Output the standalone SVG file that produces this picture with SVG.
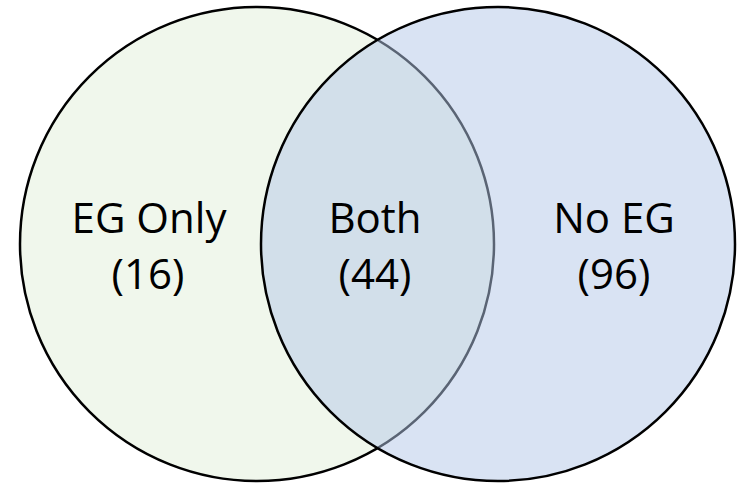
<svg xmlns="http://www.w3.org/2000/svg" width="740" height="483" viewBox="0 0 740 483">
<style>
.set{stroke:#000;stroke-width:2.5}
.lbl{font-family:"Open Sans","Noto Sans",sans-serif;font-size:42px;fill:#000;text-anchor:middle}
</style>
<rect width="740" height="483" fill="#fff"/>
<g id="eg">
<circle class="set" cx="257" cy="244" r="237" fill="#F0F7EC"/>
</g>
<g id="noeg">
<circle class="set" cx="498" cy="244" r="237" fill="#B4C7E7" fill-opacity="0.5"/>
</g>
<g id="connectors"></g>
<g id="label-eg-only">
<text class="lbl" x="149" y="233">EG Only</text>
<text class="lbl" x="148" y="289">(16)</text>
</g>
<g id="label-both">
<text class="lbl" x="375" y="233">Both</text>
<text class="lbl" x="375" y="289">(44)</text>
</g>
<g id="label-no-eg">
<text class="lbl" x="614" y="233">No EG</text>
<text class="lbl" x="614" y="289">(96)</text>
</g>
</svg>
